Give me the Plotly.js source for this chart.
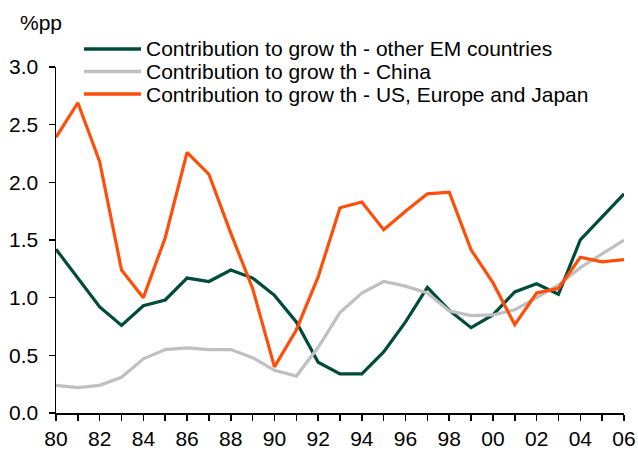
<!DOCTYPE html>
<html><head><meta charset="utf-8">
<script src="https://cdn.plot.ly/plotly-3.0.1.min.js"></script>
<style>html,body{margin:0;padding:0;background:#fff}</style>
</head><body><div id="chart" style="width:638px;height:450px"></div>
<script>
const years = [1980,1981,1982,1983,1984,1985,1986,1987,1988,1989,1990,1991,1992,1993,1994,1995,1996,1997,1998,1999,2000,2001,2002,2003,2004,2005,2006];
const otherEM = [1.42,1.17,0.92,0.76,0.93,0.98,1.17,1.14,1.24,1.17,1.02,0.79,0.44,0.34,0.34,0.53,0.79,1.09,0.89,0.74,0.85,1.05,1.12,1.03,1.50,1.70,1.90];
const china = [0.24,0.22,0.24,0.31,0.47,0.55,0.565,0.55,0.55,0.48,0.37,0.32,0.57,0.87,1.04,1.14,1.10,1.04,0.885,0.845,0.85,0.895,1.00,1.11,1.26,1.38,1.50];
const usEuJp = [2.39,2.69,2.18,1.24,1.00,1.52,2.26,2.07,1.56,1.08,0.40,0.72,1.18,1.78,1.83,1.59,1.75,1.90,1.915,1.415,1.13,0.765,1.04,1.08,1.35,1.31,1.33];
const seriesNames = ["Contribution to grow th - other EM countries","Contribution to grow th - China","Contribution to grow th - US, Europe and Japan"];
const xTickVals = [1980,1982,1984,1986,1988,1990,1992,1994,1996,1998,2000,2002,2004,2006];
const xTickText = ["80","82","84","86","88","90","92","94","96","98","00","02","04","06"];
const yTickVals = [0,0.5,1,1.5,2,2.5,3];
const unitLabel = "%pp";

const colors = ['#004B3A', '#C0C0C0', '#FF4E0A'];
const seriesData = [otherEM, china, usEuJp];

const W = 638, H = 450;
const M = {l:56, r:14, t:67, b:37};
const plotW = W - M.l - M.r, plotH = H - M.t - M.b;
const px = x => (x - M.l) / plotW;
const py = y => (H - M.b - y) / plotH;

const font = {family:'"Liberation Sans", Arial, sans-serif', size:21, color:'#000'};
const traces = seriesData.map((d, i) => ({
  x: years, y: d, name: seriesNames[i], mode: 'lines', showlegend: false,
  line: {color: colors[i], width: 3.2}
}));

const legendRows = [49, 71.5, 94];
const shapes = [], annotations = [];
seriesNames.forEach((n, i) => {
  shapes.push({type:'line', xref:'paper', yref:'paper', x0:px(84), x1:px(141), y0:py(legendRows[i]), y1:py(legendRows[i]),
    line:{color:colors[i], width:3.5}});
  annotations.push({text:n, xref:'paper', yref:'paper', x:px(144), y:py(legendRows[i]), xanchor:'left', yanchor:'middle',
    showarrow:false, font:font});
});
annotations.push({text:unitLabel, xref:'paper', yref:'paper', x:px(18), y:py(23), xanchor:'left', yanchor:'middle', showarrow:false, font:font});

const layout = {
  width:W, height:H,
  margin:{l:M.l, r:M.r, t:M.t, b:M.b, pad:0},
  paper_bgcolor:'#fff', plot_bgcolor:'#fff',
  font:font,
  showlegend:false,
  xaxis:{range:[1980,2006], tickvals:xTickVals, ticktext:xTickText, ticks:'outside', ticklen:6, tickwidth:1.5, tickcolor:'#000',
    ticklabelstandoff:0, tickfont:font,
    showline:true, linecolor:'#000', linewidth:1.5, showgrid:false, zeroline:false, fixedrange:true,
    minor:{tickvals:years, ticks:'outside', ticklen:6, tickwidth:1.5, tickcolor:'#000', showgrid:false}},
  yaxis:{range:[0,3], tickvals:yTickVals, tickformat:'.1f', ticks:'outside', ticklen:6, tickwidth:1.5, tickcolor:'#000',
    ticklabelstandoff:6, tickfont:font,
    showline:true, linecolor:'#000', linewidth:1.5, showgrid:false, zeroline:false, fixedrange:true},
  shapes: shapes,
  annotations: annotations
};
Plotly.newPlot('chart', traces, layout, {staticPlot:true, displayModeBar:false});
</script></body></html>
